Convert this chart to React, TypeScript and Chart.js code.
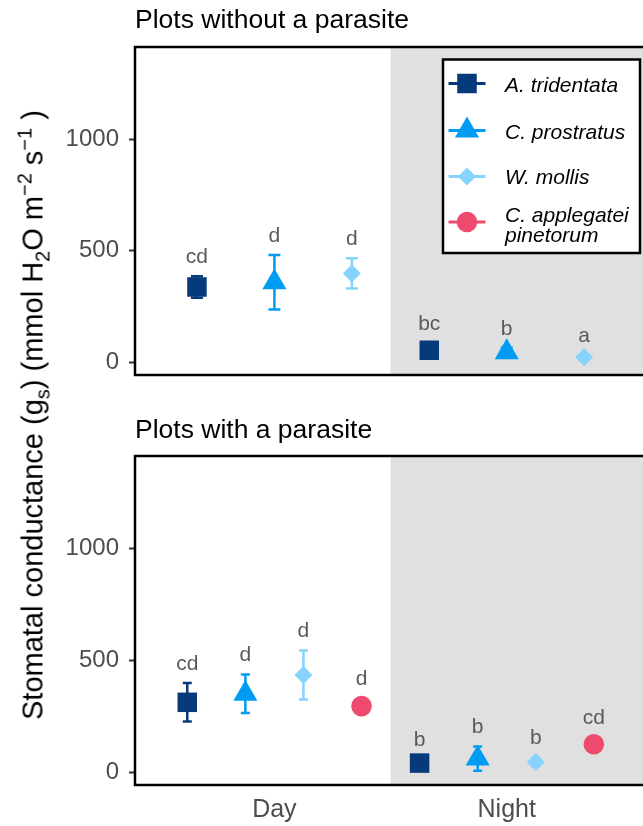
import React, { useEffect, useRef } from 'react';
import { Chart, registerables } from 'chart.js';

Chart.register(...registerables);

const FONT = "'Liberation Sans', Arial, Helvetica, sans-serif";
Chart.defaults.font.family = FONT;

// ---------- data ----------
const categories = ['Day', 'Night'];
const yTicks = [0, 500, 1000];
const yMin = -58;
const yMax = 1414;

const speciesNames = ['A. tridentata', 'C. prostratus', 'W. mollis', 'C. applegatei pinetorum'];
const speciesColors = ['#073a7b', '#009cf4', '#86d3fe', '#ee4a6e'];
const speciesShapes = ['rect', 'triangle', 'rectRot', 'circle'];
const speciesRadius = [13.8, 13.9, 9, 10.3];

// Panel 1: plots without a parasite (Day, Night)
const noParTridentataMean = [337, 53];
const noParTridentataErr = [48, 30];
const noParTridentataLetters = ['cd', 'bc'];
const noParProstratusMean = [358, 44];
const noParProstratusErr = [122, 20];
const noParProstratusLetters = ['d', 'b'];
const noParMollisMean = [398, 22];
const noParMollisErr = [68, 9];
const noParMollisLetters = ['d', 'a'];

// Panel 2: plots with a parasite (Day, Night)
const parTridentataMean = [312, 40];
const parTridentataErr = [86, 17];
const parTridentataLetters = ['cd', 'b'];
const parProstratusMean = [350, 60];
const parProstratusErr = [86, 54];
const parProstratusLetters = ['d', 'b'];
const parMollisMean = [434, 45];
const parMollisErr = [110, 21];
const parMollisLetters = ['d', 'b'];
const parApplegateiMean = [295, 124];
const parApplegateiErr = [34, 31];
const parApplegateiLetters = ['d', 'cd'];

const LETTER_GAP = 59; // data units above mean + error

type Series = { idx: number; mean: number[]; err: number[]; letters: string[] };

const noParSeries: Series[] = [
  { idx: 0, mean: noParTridentataMean, err: noParTridentataErr, letters: noParTridentataLetters },
  { idx: 1, mean: noParProstratusMean, err: noParProstratusErr, letters: noParProstratusLetters },
  { idx: 2, mean: noParMollisMean, err: noParMollisErr, letters: noParMollisLetters },
];
const parSeries: Series[] = [
  { idx: 0, mean: parTridentataMean, err: parTridentataErr, letters: parTridentataLetters },
  { idx: 1, mean: parProstratusMean, err: parProstratusErr, letters: parProstratusLetters },
  { idx: 2, mean: parMollisMean, err: parMollisErr, letters: parMollisLetters },
  { idx: 3, mean: parApplegateiMean, err: parApplegateiErr, letters: parApplegateiLetters },
];

function drawMarker(ctx: CanvasRenderingContext2D, style: string, x: number, y: number, r: number) {
  ctx.beginPath();
  if (style === 'rect') {
    const s = r * Math.SQRT1_2;
    ctx.rect(x - s, y - s, 2 * s, 2 * s);
  } else if (style === 'triangle') {
    const a = (2 * Math.PI) / 3;
    ctx.moveTo(x, y - r);
    ctx.lineTo(x + r * Math.sin(a), y - r * Math.cos(a));
    ctx.lineTo(x + r * Math.sin(2 * a), y - r * Math.cos(2 * a));
    ctx.closePath();
  } else if (style === 'rectRot') {
    ctx.moveTo(x, y - r);
    ctx.lineTo(x + r, y);
    ctx.lineTo(x, y + r);
    ctx.lineTo(x - r, y);
    ctx.closePath();
  } else {
    ctx.arc(x, y, r, 0, Math.PI * 2);
  }
  ctx.fill();
}

function makeConfig(series: Series[], opt: { showX: boolean; padTop: number; padBottom: number; capHalf: number; legend: boolean }) {
  const n = series.length;
  const dodge = (i: number) => (i - (n - 1) / 2) / n;

  const bgPlugin = {
    id: 'bg',
    beforeDraw(chart: any) {
      const { ctx, chartArea: a, scales } = chart;
      ctx.save();
      ctx.fillStyle = '#ffffff';
      ctx.fillRect(0, 0, chart.width, chart.height);
      const xm = scales.x.getPixelForValue(1.5);
      ctx.fillStyle = '#e0e0e0';
      ctx.fillRect(xm, a.top, a.right - xm, a.bottom - a.top);
      ctx.restore();
    },
  };

  const errPlugin = {
    id: 'err',
    beforeDatasetsDraw(chart: any) {
      const { ctx, scales } = chart;
      ctx.save();
      ctx.lineWidth = 2.5;
      series.forEach((s, i) => {
        const meta = chart.getDatasetMeta(i);
        ctx.strokeStyle = speciesColors[s.idx];
        s.mean.forEach((m, j) => {
          const px = meta.data[j].x;
          const y1 = scales.y.getPixelForValue(m + s.err[j]);
          const y2 = scales.y.getPixelForValue(m - s.err[j]);
          ctx.beginPath();
          ctx.moveTo(px, y1);
          ctx.lineTo(px, y2);
          ctx.moveTo(px - opt.capHalf, y1);
          ctx.lineTo(px + opt.capHalf, y1);
          ctx.moveTo(px - opt.capHalf, y2);
          ctx.lineTo(px + opt.capHalf, y2);
          ctx.stroke();
        });
      });
      ctx.restore();
    },
  };

  const letterPlugin = {
    id: 'letters',
    afterDatasetsDraw(chart: any) {
      const { ctx, scales } = chart;
      ctx.save();
      ctx.fillStyle = '#5a5a5a';
      ctx.font = `21px ${FONT}`;
      ctx.textAlign = 'center';
      ctx.textBaseline = 'alphabetic';
      series.forEach((s, i) => {
        const meta = chart.getDatasetMeta(i);
        s.mean.forEach((m, j) => {
          const px = meta.data[j].x;
          const py = scales.y.getPixelForValue(m + s.err[j] + LETTER_GAP);
          ctx.fillText(s.letters[j], px, py);
        });
      });
      ctx.restore();
    },
  };

  const borderPlugin = {
    id: 'border',
    afterDraw(chart: any) {
      const { ctx, chartArea: a } = chart;
      ctx.save();
      ctx.strokeStyle = '#000000';
      ctx.lineWidth = 2.5;
      ctx.strokeRect(a.left, a.top, a.right - a.left, a.bottom - a.top);
      ctx.restore();
    },
  };

  const legendPlugin = {
    id: 'customLegend',
    afterDraw(chart: any) {
      if (!opt.legend) return;
      const { ctx } = chart;
      ctx.save();
      const bx = 443, by = 59.5, bw = 197, bh = 193.5;
      ctx.fillStyle = '#ffffff';
      ctx.fillRect(bx, by, bw, bh);
      ctx.strokeStyle = '#000000';
      ctx.lineWidth = 2.5;
      ctx.strokeRect(bx, by, bw, bh);
      const rowsY = [83.5, 130.5, 176.5, 222];
      const baselines = [[91.7], [138.5], [184], [221.7, 241.5]];
      const lines = [[speciesNames[0]], [speciesNames[1]], [speciesNames[2]], ['C. applegatei', 'pinetorum']];
      rowsY.forEach((ry, k) => {
        ctx.strokeStyle = speciesColors[k];
        ctx.fillStyle = speciesColors[k];
        ctx.lineWidth = 2.8;
        ctx.beginPath();
        ctx.moveTo(448.5, ry);
        ctx.lineTo(485.5, ry);
        ctx.stroke();
        drawMarker(ctx, speciesShapes[k], 467, ry, speciesRadius[k]);
        ctx.fillStyle = '#000000';
        ctx.font = `italic 21px ${FONT}`;
        ctx.textAlign = 'left';
        ctx.textBaseline = 'alphabetic';
        lines[k].forEach((t, li) => ctx.fillText(t, 505, baselines[k][li]));
      });
      ctx.restore();
    },
  };

  return {
    type: 'scatter',
    data: {
      datasets: series.map((s, i) => ({
        label: speciesNames[s.idx],
        data: s.mean.map((m, j) => ({ x: j + 1 + dodge(i), y: m })),
        pointStyle: speciesShapes[s.idx],
        pointRadius: speciesRadius[s.idx],
        pointHoverRadius: speciesRadius[s.idx],
        backgroundColor: speciesColors[s.idx],
        borderColor: speciesColors[s.idx],
        pointBorderWidth: 0,
        borderWidth: 0,
        showLine: false,
      })),
    },
    options: {
      animation: false,
      responsive: false,
      maintainAspectRatio: false,
      devicePixelRatio: 1,
      events: [],
      layout: { padding: { top: opt.padTop, right: 12, bottom: opt.padBottom, left: 0 } },
      plugins: {
        legend: { display: false },
        tooltip: { enabled: false },
        title: { display: false },
      },
      scales: {
        x: {
          type: 'linear',
          min: 0.4,
          max: 2.6,
          display: opt.showX,
          afterBuildTicks: (sc: any) => {
            sc.ticks = categories.map((_, i) => ({ value: i + 1 }));
          },
          afterFit: (sc: any) => {
            sc.height = opt.showX ? 41 : 0;
          },
          ticks: {
            callback: (v: any) => categories[Math.round(Number(v)) - 1],
            font: { family: FONT, size: 25 },
            color: '#4d4d4d',
            padding: 10.5,
            autoSkip: false,
            maxRotation: 0,
            minRotation: 0,
          },
          grid: { display: false, drawTicks: false },
          border: { display: false },
        },
        y: {
          type: 'linear',
          min: yMin,
          max: yMax,
          afterBuildTicks: (sc: any) => {
            sc.ticks = yTicks.map((v) => ({ value: v }));
          },
          afterFit: (sc: any) => {
            sc.width = 135;
          },
          ticks: {
            font: { family: FONT, size: 24 },
            color: '#4d4d4d',
            padding: 10,
            callback: (v: any) => String(v),
          },
          grid: { drawOnChartArea: false, drawTicks: true, tickLength: 6, tickColor: '#333333', tickWidth: 2 },
          border: { display: false },
        },
      },
    },
    plugins: [bgPlugin, errPlugin, letterPlugin, borderPlugin, legendPlugin],
  };
}

function Panel({ series, top, height, showX, padTop, padBottom, capHalf, legend }: any) {
  const ref = useRef<HTMLCanvasElement>(null);
  useEffect(() => {
    if (!ref.current) return;
    const chart = new Chart(ref.current, makeConfig(series, { showX, padTop, padBottom, capHalf, legend }) as any);
    return () => chart.destroy();
  }, []);
  return (
    <canvas
      ref={ref}
      width={660}
      height={height}
      style={{ position: 'absolute', left: 0, top, width: 660, height }}
    />
  );
}

const titleStyle: React.CSSProperties = {
  position: 'absolute',
  left: 135,
  fontFamily: FONT,
  fontSize: 26.5,
  lineHeight: '26.5px',
  color: '#000',
  whiteSpace: 'nowrap',
};

const smallStyle: React.CSSProperties = { fontSize: 20, lineHeight: 0 };

export default function App() {
  return (
    <div
      style={{
        position: 'absolute',
        left: 0,
        top: 0,
        width: 643,
        height: 826,
        overflow: 'hidden',
        background: '#fff',
      }}
    >
      <Panel series={noParSeries} top={0} height={400} showX={false} padTop={47} padBottom={25} capHalf={6} legend={true} />
      <Panel series={parSeries} top={400} height={426} showX={true} padTop={56} padBottom={0} capHalf={4.5} legend={false} />
      <div style={{ ...titleStyle, top: 6 }}>Plots without a parasite</div>
      <div style={{ ...titleStyle, top: 416 }}>Plots with a parasite</div>
      <div
        style={{
          position: 'absolute',
          left: 33,
          top: 415,
          transform: 'translate(-50%, -50%) rotate(-90deg)',
          fontFamily: FONT,
          fontSize: 29,
          lineHeight: '29px',
          color: '#000',
          whiteSpace: 'nowrap',
        }}
      >
        Stomatal conductance (g<sub style={smallStyle}>s</sub>) (mmol H<sub style={smallStyle}>2</sub>O m
        <sup style={smallStyle}>−2</sup> s<sup style={smallStyle}>−1</sup> )
      </div>
    </div>
  );
}
